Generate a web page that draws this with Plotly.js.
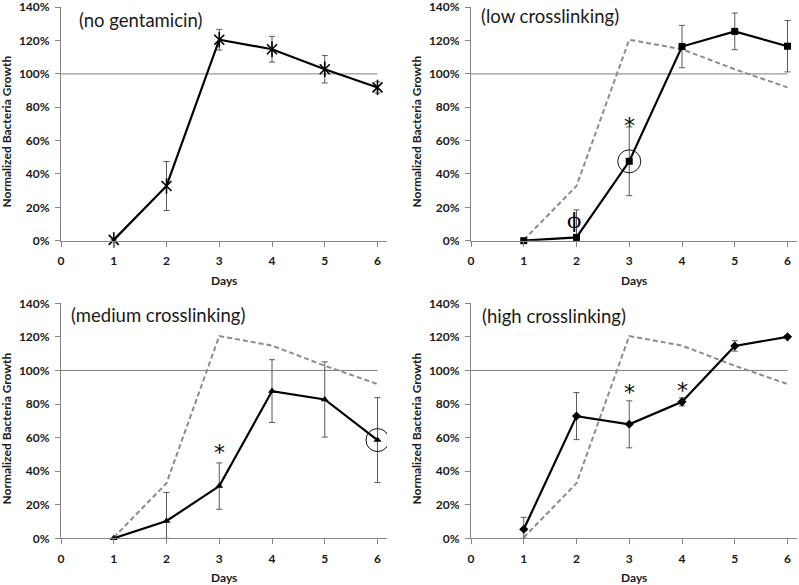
<!DOCTYPE html>
<html><head><meta charset="utf-8">
<script src="https://cdn.plot.ly/plotly-3.0.1.min.js"></script>
<style>html,body{margin:0;padding:0;background:#fff}#chart{width:799px;height:585px}</style>
</head><body><div id="chart"></div>
<script>
// ---- data ----
const days = [1, 2, 3, 4, 5, 6];
const xTicks = [0, 1, 2, 3, 4, 5, 6];
const yTicks = [0, 20, 40, 60, 80, 100, 120, 140];
const refX = [0, 6];
const refY = [100, 100];

const control = [0.5, 32.8, 120.5, 114.8, 102.8, 91.9];
const controlErr = [0, 14.7, 6.2, 7.7, 8.2, 3.3];

const low = [0, 2, 47.6, 116.4, 125.5, 116.6];
const lowErrUp = [0, 16.5, 20.6, 12.7, 11, 15.4];
const lowErrDown = [0, 2, 20.6, 12.7, 11, 15.4];

const medium = [0, 10.3, 31.1, 87.7, 82.7, 58.5];
const mediumErrUp = [0, 17, 13.8, 18.7, 22.4, 25.3];
const mediumErrDown = [0, 10.3, 13.8, 18.7, 22.4, 25.3];

const high = [5.4, 72.8, 67.9, 81.3, 114.6, 120];
const highErrUp = [7.1, 14, 14, 2.4, 3.1, 0.5];
const highErrDown = [5.4, 14, 14, 2.4, 3.1, 0.5];

const panelLabels = ['(no gentamicin)', '(low crosslinking)', '(medium crosslinking)', '(high crosslinking)'];
const yTitle = 'Normalized Bacteria Growth';
const xTitle = 'Days';

// significance marks: [panel, x, y, text]
const marks = [
  [2, 3, 71.5, '*'],
  [2, 1.95, 12, 'ϕ'],
  [3, 3, 53.6, '*'],
  [4, 3, 89.3, '*'],
  [4, 4, 90.2, '*']
];
// circled points: [panel, x, y]
const circled = [[2, 3, 47.6], [3, 6, 58.5]];

// ---- styling ----
const FONT = 'Lato, "Open Sans", sans-serif';
const AX = '#868686';
const ERR = '#595959';
const DASH = '#8c8c8c';

function axisIds(p) { return p === 1 ? ['x', 'y'] : ['x' + p, 'y' + p]; }

const traces = [];
function addPanel(p, vals, up, down, symbol, msize, withControl) {
  const [xa, ya] = axisIds(p);
  traces.push({x: refX, y: refY, xaxis: xa, yaxis: ya, mode: 'lines',
    line: {color: '#7f7f7f', width: 1}, hoverinfo: 'skip', showlegend: false});
  if (withControl) {
    traces.push({x: days, y: control, xaxis: xa, yaxis: ya, mode: 'lines',
      line: {color: DASH, width: 2, dash: '5px,3px'}, showlegend: false});
  }
  traces.push({x: days, y: vals, xaxis: xa, yaxis: ya, mode: 'lines+markers',
    cliponaxis: false,
    line: {color: '#000', width: 2.2},
    marker: {symbol: symbol, size: msize, color: '#000', line: {color: '#000', width: symbol.indexOf('open') >= 0 ? 1.6 : 0}},
    error_y: {type: 'data', symmetric: false, array: up, arrayminus: down, color: ERR, thickness: 1, width: 3},
    showlegend: false});
}
addPanel(1, control, controlErr, controlErr, 'x-thin-open', 10, false);
traces.push({x: days, y: control, xaxis: 'x', yaxis: 'y', mode: 'markers', cliponaxis: false,
  marker: {symbol: 'line-ns-open', size: 11, color: '#000', line: {color: '#000', width: 1.6}}, showlegend: false});
addPanel(2, low, lowErrUp, lowErrDown, 'square', 7, true);
addPanel(3, medium, mediumErrUp, mediumErrDown, 'triangle-up', 7, true);
addPanel(4, high, highErrUp, highErrDown, 'diamond', 7, true);

const xL = [61 / 799, 387 / 799], xR = [471 / 799, 797 / 799];
const yT = [1 - 240.7 / 585, 1 - 7.2 / 585], yB = [1 - 538.3 / 585, 1 - 303.3 / 585];

const tickFont = {family: FONT, size: 12, color: '#1a1a1a', weight: 'bold'};
function xAxis(dom, anchor) {
  return {domain: dom, anchor: anchor, range: [0, 6.18], tickmode: 'array', tickvals: xTicks,
    showline: true, linecolor: AX, linewidth: 1, ticks: 'outside', ticklen: 5, tickcolor: AX,
    showgrid: false, zeroline: false, fixedrange: true, ticklabelstandoff: 4,
    ticklabeloverflow: 'allow', tickfont: tickFont};
}
function yAxis(dom, anchor) {
  return {domain: dom, anchor: anchor, range: [0, 140], tickmode: 'array', tickvals: yTicks,
    ticktext: yTicks.map(v => v + '%'),
    showline: true, linecolor: AX, linewidth: 1, ticks: 'outside', ticklen: 5, tickcolor: AX,
    showgrid: false, zeroline: false, fixedrange: true, ticklabelstandoff: 3,
    ticklabeloverflow: 'allow', tickfont: tickFont};
}

const annotations = [];
const panelPos = [
  {lx: 77 / 799, ly: 1 - 20 / 585, tx: 6.5 / 799, ty: 1 - 132 / 585, dx: 224 / 799, dy: 1 - 280 / 585},
  {lx: 479 / 799, ly: 1 - 16 / 585, tx: 416.5 / 799, ty: 1 - 132 / 585, dx: 634 / 799, dy: 1 - 280 / 585},
  {lx: 69 / 799, ly: 1 - 315 / 585, tx: 6.5 / 799, ty: 1 - 429 / 585, dx: 224 / 799, dy: 1 - 577 / 585},
  {lx: 480 / 799, ly: 1 - 316 / 585, tx: 416.5 / 799, ty: 1 - 429 / 585, dx: 634 / 799, dy: 1 - 577 / 585}
];
panelPos.forEach((pp, i) => {
  annotations.push({xref: 'paper', yref: 'paper', x: pp.lx, y: pp.ly, xanchor: 'left', yanchor: 'middle',
    text: panelLabels[i], showarrow: false, font: {family: FONT, size: 18.5, color: '#1a1a1a'}});
  annotations.push({xref: 'paper', yref: 'paper', x: pp.tx, y: pp.ty, xanchor: 'center', yanchor: 'middle',
    text: yTitle, textangle: -90, showarrow: false, font: {family: FONT, size: 12, color: '#1a1a1a', weight: 'bold'}});
  annotations.push({xref: 'paper', yref: 'paper', x: pp.dx, y: pp.dy, xanchor: 'center', yanchor: 'middle',
    text: xTitle, showarrow: false, font: {family: FONT, size: 12, color: '#1a1a1a', weight: 'bold'}});
});
marks.forEach(m => {
  const [xa, ya] = axisIds(m[0]);
  const star = m[3] === '*';
  annotations.push({xref: xa, yref: ya, x: m[1], y: m[2], xanchor: 'center', yanchor: 'middle',
    text: m[3], showarrow: false,
    font: {family: star ? '"DejaVu Sans", sans-serif' : '"DejaVu Serif", serif',
           size: star ? 22 : 21, color: '#000'},
    yshift: star ? -4 : 0});
});

const shapes = circled.map(c => {
  const [xa, ya] = axisIds(c[0]);
  return {type: 'circle', xref: xa, yref: ya, xsizemode: 'pixel', ysizemode: 'pixel',
    xanchor: c[1], yanchor: c[2], x0: -11.5, x1: 11.5, y0: -11.5, y1: 11.5,
    line: {color: '#111', width: 1}, fillcolor: 'rgba(0,0,0,0)'};
});

const layout = {
  width: 799, height: 585, margin: {l: 0, r: 0, t: 0, b: 0},
  paper_bgcolor: '#fff', plot_bgcolor: '#fff', showlegend: false,
  font: {family: FONT},
  xaxis: xAxis(xL, 'y'), yaxis: yAxis(yT, 'x'),
  xaxis2: xAxis(xR, 'y2'), yaxis2: yAxis(yT, 'x2'),
  xaxis3: xAxis(xL, 'y3'), yaxis3: yAxis(yB, 'x3'),
  xaxis4: xAxis(xR, 'y4'), yaxis4: yAxis(yB, 'x4'),
  annotations: annotations, shapes: shapes
};
Plotly.newPlot('chart', traces, layout, {staticPlot: true});
</script></body></html>
